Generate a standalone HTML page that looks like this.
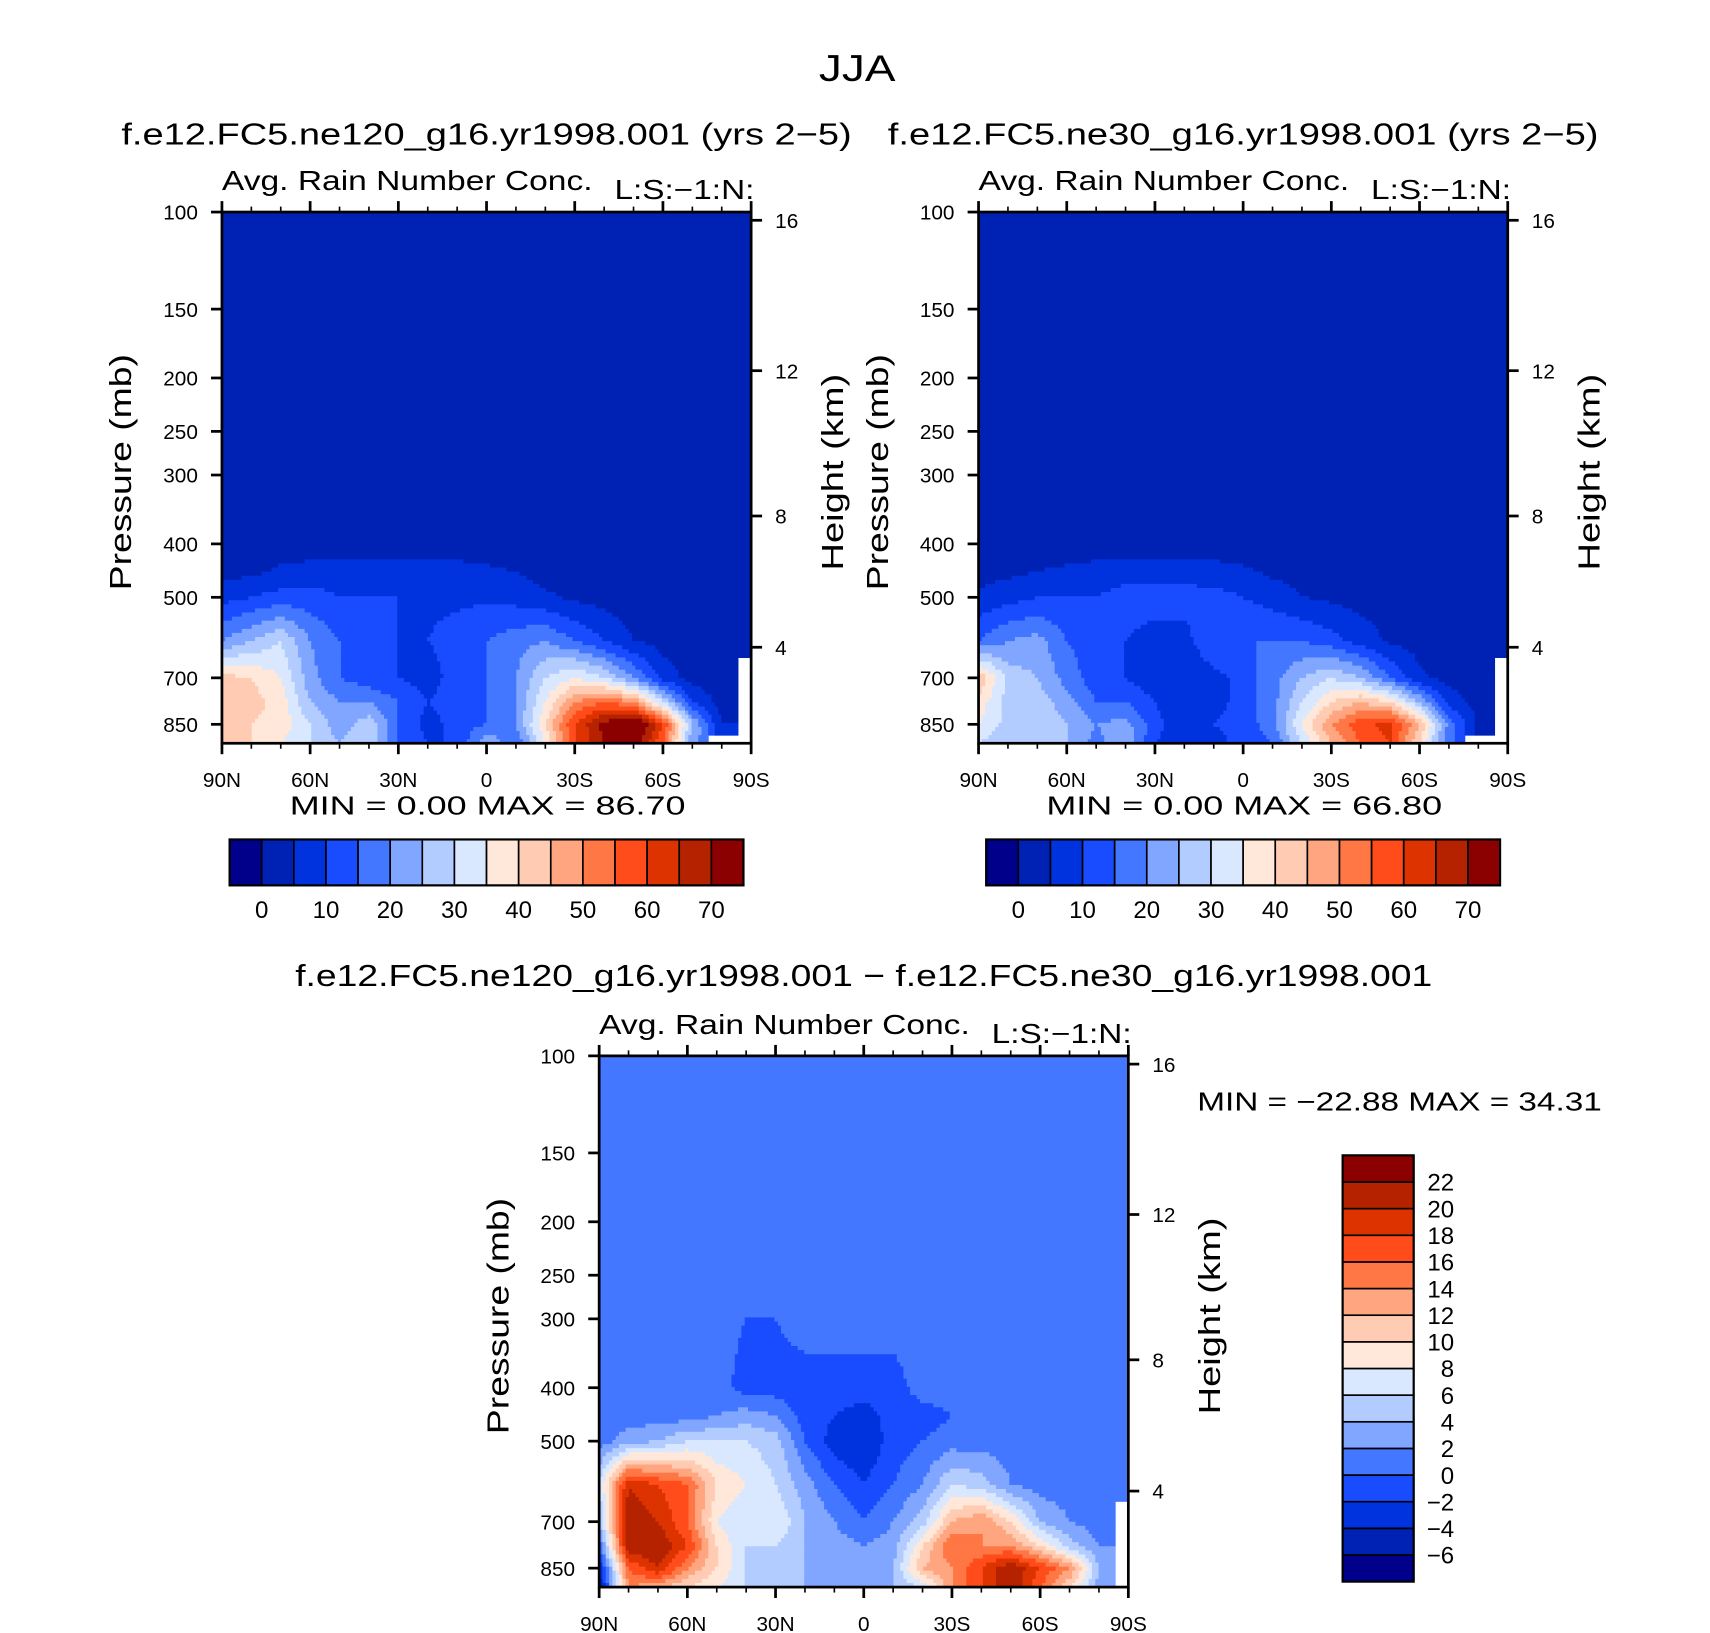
<!DOCTYPE html>
<html><head><meta charset="utf-8"><style>
html,body{margin:0;padding:0;background:#fff}
svg{display:block}
text{font-family:"Liberation Sans",sans-serif;fill:#000}
</style></head><body>
<svg id="root" width="1710" height="1633" viewBox="0 0 1564 1494" preserveAspectRatio="none">
<text x="784" y="74" font-size="34" text-anchor="middle" textLength="70" lengthAdjust="spacingAndGlyphs">JJA</text>
</svg>
<script>
// ---- data ----
const lats = [90,80,70,60,50,40,30,20,10,0,-10,-20,-30,-40,-50,-60,-70,-80,-90];
const levels = [925,850,775,700,600,500,450,400,300,100];
const A = Array(19).fill(2), B = Array(19).fill(1);
const ne120Field = [
 [40,40,35,30,25,30,15,10,10,25,15,35,60,70,75,55,20,null,null],
 [45,40,38,30,22,28,15,8,12,15,20,40,60,72,80,60,25,5,null],
 [40,42,38,25,20,20,15,10,12,15,20,35,50,55,50,30,10,3,null],
 [42,40,35,22,15,12,10,8,12,15,20,30,35,30,20,8,3,2,null],
 [20,25,30,20,15,12,10,10,12,15,18,20,15,10,5,3,2,2,2],
 [8,10,12,12,10,10,10,9,9,9,8,6,4,3,2,2,2,2,2],
 [3,4,6,7,8,8,8,7,7,6,5,3,2,2,2,2,2,2,2],
 A, A, A];
const ne30Field = [
 [30,25,28,25,18,25,10,5,8,12,15,30,45,55,60,40,15,null,null],
 [35,28,30,25,20,22,12,6,10,12,18,35,50,58,62,45,18,4,null],
 [38,28,28,22,15,15,10,5,8,12,18,30,40,45,40,25,8,3,null],
 [45,28,25,18,12,10,6,5,8,12,18,25,30,25,15,6,3,2,null],
 [15,20,22,15,12,10,8,8,15,15,15,15,12,8,4,3,2,2,2],
 [6,8,10,10,10,12,12,12,12,10,8,5,4,3,2,2,2,2,2],
 [3,4,5,6,7,8,8,8,7,6,4,3,2,2,2,2,2,2,2],
 A, A, A];
const diffField = [
 [-6,14,12,10,8,6,6,4,3,4,4,6,14,18,22,16,10,3,null],
 [-4,16,20,14,10,6,5,4,4,3,4,12,14,18,22,18,14,4,null],
 [0,22,22,18,10,6,6,4,3,2,3,10,16,14,14,10,5,2,null],
 [4,22,20,16,8,6,8,4,2,0,2,5,12,14,10,4,2,1,null],
 [6,20,18,16,10,8,6,3,0,-2,0,2,6,5,2,1,1,1,1],
 [1,3,4,6,6,6,5,0,-3,-4,-1,0,1,1,1,1,1,1,1],
 [1,1,1,1,2,3,2,-1,-2,-3,-1,-1,0,1,1,1,1,1,1],
 [1,1,1,1,1,-1,-1,-1,-1,-1,-1,1,1,1,1,1,1,1,1],
 [1,1,1,1,1,0,0,1,1,1,1,1,1,1,1,1,1,1,1],
 B];
const absLevels = [0,5,10,15,20,25,30,35,40,45,50,55,60,65,70];
const absTickLabels = ["0","10","20","30","40","50","60","70"];
const diffLevels = [-6,-4,-2,0,2,4,6,8,10,12,14,16,18,20,22];
const pTicks = [100,150,200,250,300,400,500,700,850];
const zTicks = [16,12,8,4];
const zPress = [103.5,194,356,616];
const xTickLabels = ["90N","60N","30N","0","30S","60S","90S"];
const colors = ["#00008b","#0022b4","#0033dd","#1a4cff","#4477ff","#80a6ff","#b3ccff","#d9e8ff","#ffe8d9","#ffccb3","#ffa680","#ff7744","#ff4c1a","#dd3300","#b42200","#8b0000"];

const NS = "http://www.w3.org/2000/svg";
const root = document.getElementById('root');
function el(tag, attrs, parent, txt){
  const e = document.createElementNS(NS, tag);
  for (const k in attrs) e.setAttribute(k, attrs[k]);
  if (txt !== undefined) e.textContent = txt;
  (parent||root).appendChild(e); return e;
}
function colorIndex(v, lv){ let i=0; while(i<lv.length && v>=lv[i]) i++; return i; }
const PBOT = 920;
const LA = 'spacingAndGlyphs';

function drawPanel(ox, oy, field, lv, name, title, titleLen, titleY){
  const W=484, H=486;
  const g = el('g', {}, root);
  
  
  const xOf = lat => ox + (90-lat)/180*W;
  const yOfP = p => oy + H*Math.log(p/100)/Math.log(PBOT/100);
  function sample(lat, p){
    let fi = (90-lat)/10; fi=Math.max(0,Math.min(18,fi));
    let j=0; while(j<levels.length-2 && p<levels[j+1]) j++;
    let fj = Math.log(levels[j]/p)/Math.log(levels[j]/levels[j+1]);
    fj=Math.max(0,Math.min(1,fj));
    const i0=Math.floor(fi), i1=Math.min(18,i0+1), fx=fi-i0;
    const ni = fx<0.5?i0:i1, nj = fj<0.5?j:j+1;
    if (field[nj][ni]===null) return null;
    const g2=(r,c)=>{const v=field[r][c]; return v===null?field[nj][ni]:v;};
    const a=g2(j,i0)*(1-fx)+g2(j,i1)*fx, b=g2(j+1,i0)*(1-fx)+g2(j+1,i1)*fx;
    return a*(1-fj)+b*fj;
  }
  const nx=160, ny=130;
  const fg = el('g', {}, g);
  
  
  for (let r=0;r<ny;r++){
    const y0=oy+r*H/ny, y1=oy+(r+1)*H/ny;
    const p = 100*Math.exp(((y0+y1)/2-oy)/H*Math.log(PBOT/100));
    let start=0, cur=null;
    const flush=(c)=>{ if(cur!==null && cur!=='none'){
        const rc=el('rect',{x:ox+start*W/nx,y:y0,width:(c-start)*W/nx+0.5,height:y1-y0+0.5,fill:cur},fg);
        
        
      } };
    for (let c=0;c<=nx;c++){
      let col='end';
      if(c<nx){ const lat=90-(c+0.5)/nx*180; const v=sample(lat,p);
        col = v===null?'none':colors[colorIndex(v,lv)]; }
      if(col!==cur){ flush(c); start=c; cur=col; }
    }
  }
  el('rect',{x:ox,y:oy,width:W,height:H,fill:'none',stroke:'#000','stroke-width':2.5},g);
  for (let k=0;k<=18;k++){
    const x=xOf(90-k*10), maj=k%3===0, L=maj?10:5;
    el('line',{x1:x,y1:oy,x2:x,y2:oy-L,stroke:'#000','stroke-width':maj?2.5:1.5},g);
    el('line',{x1:x,y1:oy+H,x2:x,y2:oy+H+L,stroke:'#000','stroke-width':maj?2.5:1.5},g);
  }
  xTickLabels.forEach((t,k)=>{
    const tx=el('text',{x:xOf(90-k*30),y:oy+H+40,'font-size':19,'text-anchor':'middle'},g,t);
    
    
  });
  pTicks.forEach(p=>{
    const y=yOfP(p);
    el('line',{x1:ox,y1:y,x2:ox-10,y2:y,stroke:'#000','stroke-width':2.5},g);
    const tx=el('text',{x:ox-22,y:y+7,'font-size':19,'text-anchor':'end'},g,String(p));
    
    
  });
  zTicks.forEach((z,k)=>{
    const y=yOfP(zPress[k]);
    el('line',{x1:ox+W,y1:y,x2:ox+W+10,y2:y,stroke:'#000','stroke-width':2.5},g);
    const tx=el('text',{x:ox+W+22,y:y+7,'font-size':19},g,String(z));
    
    
  });
  const yt=el('text',{x:0,y:0,'font-size':28,'text-anchor':'middle',textLength:216,lengthAdjust:LA,transform:`translate(${ox-83},${oy+H/2-5}) rotate(-90)`},g,'Pressure (mb)');
  
  
  const yt2=el('text',{x:0,y:0,'font-size':28,'text-anchor':'middle',textLength:180,lengthAdjust:LA,transform:`translate(${ox+W+84},${oy+H/2-5}) rotate(-90)`},g,'Height (km)');
  
  
  const lt=el('text',{x:ox,y:oy-20,'font-size':25,textLength:339,lengthAdjust:LA},g,'Avg. Rain Number Conc.');
  
  
  const rt=el('text',{x:ox+W+3-128,y:oy-12,'font-size':25,textLength:128,lengthAdjust:LA},g,'L:S:\u22121:N:');
  
  
  const tt=el('text',{x:ox+W/2-titleLen/2,y:titleY,'font-size':28,textLength:titleLen,lengthAdjust:LA},g,title);
  
  
  return g;
}

function hColorbar(ox, oy, g){
  const w=470/16;
  const cb=el('g',{},g);
  
  
  colors.forEach((c,i)=>{
    const r=el('rect',{x:ox+i*w,y:oy,width:w,height:42,fill:c,stroke:'#000','stroke-width':1.5},cb);
    
    
  });
  el('rect',{x:ox,y:oy,width:470,height:42,fill:'none',stroke:'#000','stroke-width':2},cb);
  absLevels.forEach((v,i)=>{
    if(i%2) return;
    const t=el('text',{x:ox+(i+1)*w,y:oy+72,'font-size':22,'text-anchor':'middle'},cb,absTickLabels[i/2]);
    
    
  });
}
function minmax(x,y,len,txt,g){
  const m=el('text',{x:x,y:y,'font-size':24,textLength:len,lengthAdjust:LA,'xml:space':'preserve'},g,txt);
   
}

const g1=drawPanel(203,194,ne120Field,absLevels,'panel-ne120','f.e12.FC5.ne120_g16.yr1998.001 (yrs 2\u22125)',668,132);
minmax(265,745,362,'MIN =     0.00   MAX =   86.70',g1);
hColorbar(210,768,g1);

const g2=drawPanel(895,194,ne30Field,absLevels,'panel-ne30','f.e12.FC5.ne30_g16.yr1998.001 (yrs 2\u22125)',650,132);
minmax(957,745,362,'MIN =     0.00   MAX =   66.80',g2);
hColorbar(902,768,g2);

const g3=drawPanel(548,966,diffField,diffLevels,'panel-difference','f.e12.FC5.ne120_g16.yr1998.001 \u2212 f.e12.FC5.ne30_g16.yr1998.001',1040,902);
minmax(1095,1016,370,'MIN = \u221222.88   MAX =   34.31',g3);
const vcb=el('g',{},g3);


const bh=390/16;
colors.forEach((c,i)=>{
  const r=el('rect',{x:1228,y:1057+(15-i)*bh,width:65,height:bh,fill:c,stroke:'#000','stroke-width':1.5},vcb);
  
  
});
el('rect',{x:1228,y:1057,width:65,height:390,fill:'none',stroke:'#000','stroke-width':2},vcb);
diffLevels.forEach((v,i)=>{
  const y=1057+(15-i)*bh;
  const t=el('text',{x:1330,y:y+8,'font-size':22,'text-anchor':'end'},vcb,(v<0?'\u2212':'')+Math.abs(v));
  
  
});
</script>
</body></html>
